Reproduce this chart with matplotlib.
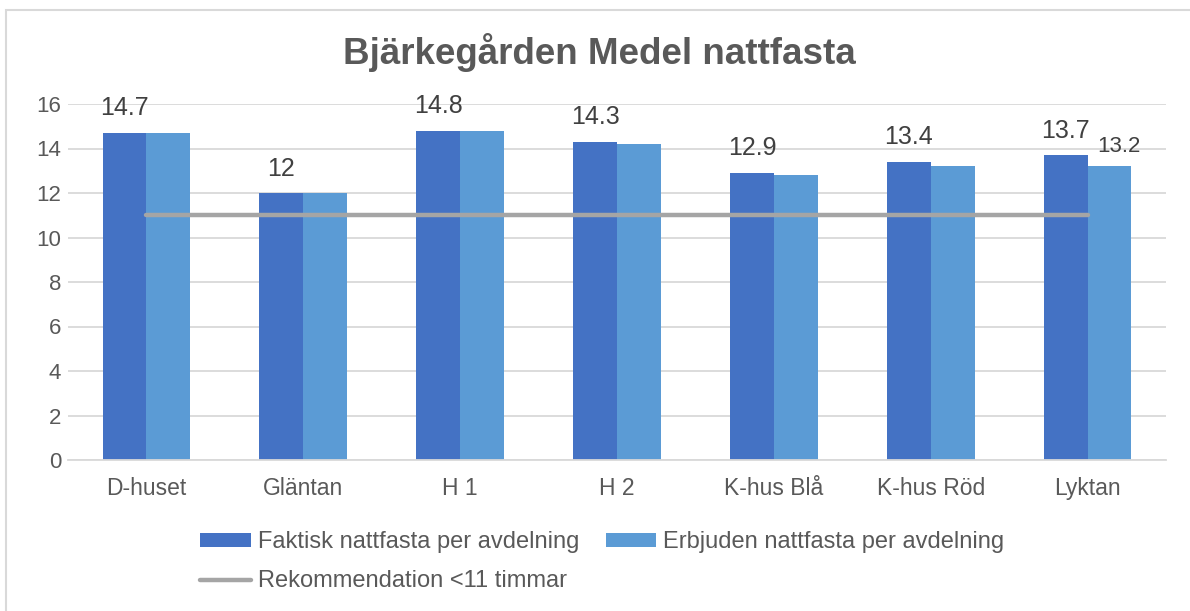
import numpy as np
import matplotlib.pyplot as plt
from matplotlib.patches import Rectangle

plt.rcParams['font.family'] = ['Liberation Sans', 'DejaVu Sans']

avdelningar = ['D-huset', 'Gläntan', 'H 1', 'H 2', 'K-hus Blå', 'K-hus Röd', 'Lyktan']
faktisk = [14.7, 12.0, 14.8, 14.3, 12.9, 13.4, 13.7]
erbjuden = [14.7, 12.0, 14.8, 14.2, 12.8, 13.2, 13.2]
rekommendation = [11, 11, 11, 11, 11, 11, 11]

# etiketter som syns i originalet (None = ingen etikett)
faktisk_etiketter = ['14.7', '12', '14.8', '14.3', '12.9', '13.4', '13.7']
erbjuden_etiketter = [None, None, None, None, None, None, '13.2']

morkbla = '#4472C4'
ljusbla = '#5B9BD5'
gra = '#A5A5A5'

fig = plt.figure(figsize=(11.9, 6.11), dpi=100)
ax = fig.add_axes([68 / 1190, 1 - 460 / 611, (1166 - 68) / 1190, (460 - 104) / 611])

# ram runt diagrammet
fig.patches.append(Rectangle((6 / 1190, -0.05), 1.1, 1 - 10 / 611 + 0.05,
                             transform=fig.transFigure, fill=False,
                             edgecolor='#D9D9D9', lw=1.5))

x = np.arange(len(avdelningar))
w = 0.28
b1 = ax.bar(x - w / 2, faktisk, w, color=morkbla, label='Faktisk nattfasta per avdelning', zorder=2)
b2 = ax.bar(x + w / 2, erbjuden, w, color=ljusbla, label='Erbjuden nattfasta per avdelning', zorder=2)
l1, = ax.plot(x, rekommendation, color=gra, lw=3.2, solid_capstyle='round',
              label='Rekommendation <11 timmar', zorder=3)

for rect, txt in zip(b1, faktisk_etiketter):
    if txt:
        ax.annotate(txt, (rect.get_x() + rect.get_width() / 2, rect.get_height()),
                    xytext=(0, 9), textcoords='offset points', ha='center', va='bottom',
                    fontsize=18, color='#404040', annotation_clip=False)
for rect, txt in zip(b2, erbjuden_etiketter):
    if txt:
        ax.annotate(txt, (rect.get_x() + rect.get_width() / 2, rect.get_height()),
                    xytext=(7, 7), textcoords='offset points', ha='center', va='bottom',
                    fontsize=16, color='#404040', annotation_clip=False)

ax.set_xlim(-0.5, len(avdelningar) - 0.5)
ax.set_ylim(0, 16)
ax.set_yticks(range(0, 17, 2))
ax.set_xticks(x)
ax.set_xticklabels(avdelningar)
ax.tick_params(axis='both', length=0, labelsize=16, colors='#595959')
ax.tick_params(axis='x', pad=12, labelsize=16.5)
ax.tick_params(axis='y', pad=5)
ax.yaxis.grid(True, color='#D9D9D9', lw=1.3, zorder=0)
ax.set_axisbelow(True)
for s in ['top', 'right', 'left']:
    ax.spines[s].set_visible(False)
ax.spines['bottom'].set_color('#D9D9D9')
ax.spines['bottom'].set_linewidth(1.3)

fig.text(0.504, 1 - 52 / 611, 'Bjärkegården Medel nattfasta', ha='center', va='center',
         fontsize=26.5, fontweight='bold', color='#595959')

leg = fig.legend([b1, l1, b2],
                 [b1.get_label(), l1.get_label(), b2.get_label()],
                 ncol=2, loc='upper left', bbox_to_anchor=(191 / 1190, 1 - 522 / 611),
                 frameon=False, fontsize=17, handlelength=2.15, handleheight=0.58,
                 handletextpad=0.3, columnspacing=1.1, labelspacing=0.72, borderaxespad=0)
for t in leg.get_texts():
    t.set_color('#595959')

fig.savefig('out.png', dpi=100)
